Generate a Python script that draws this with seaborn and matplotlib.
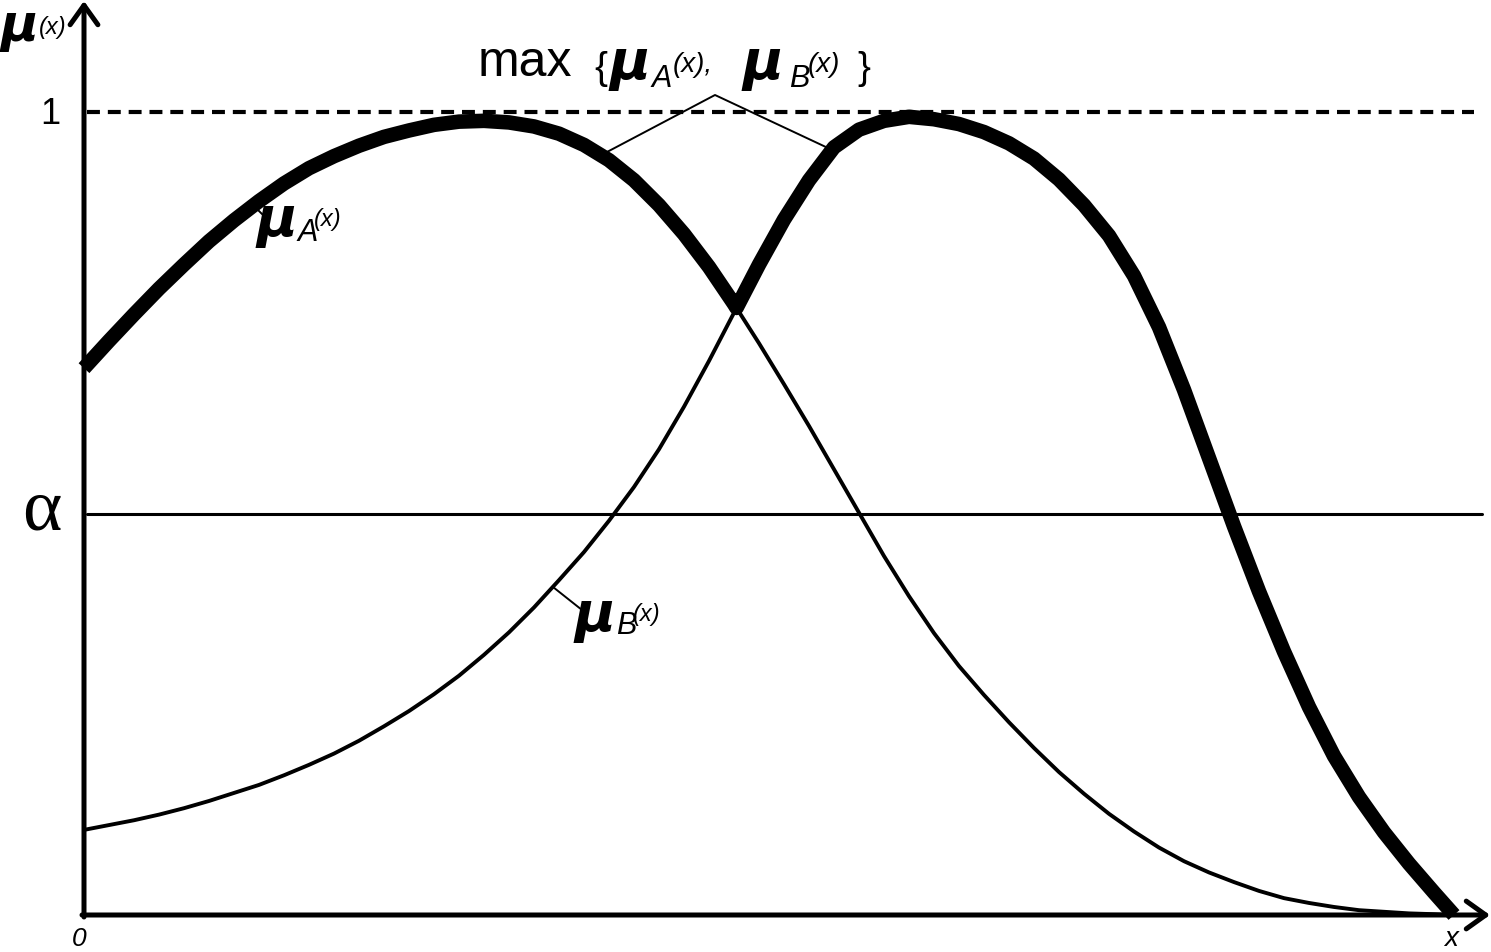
import numpy as np
import pandas as pd
import seaborn as sns
import matplotlib
matplotlib.use("Agg")
import matplotlib.pyplot as plt

# eixo x: grade comum para as duas funções (o ponto 6.525 é o cruzamento A x B)
x_vals = [0.00, 0.25, 0.50, 0.75, 1.00, 1.25, 1.50, 1.75, 2.00, 2.25, 2.50, 2.75,
          3.00, 3.25, 3.50, 3.75, 4.00, 4.25, 4.50, 4.75, 5.00, 5.25, 5.50, 5.75,
          6.00, 6.25, 6.50, 6.525, 6.75, 7.00, 7.25, 7.50, 7.75, 8.00, 8.25, 8.50,
          8.75, 9.00, 9.25, 9.50, 9.75, 10.00, 10.25, 10.50, 10.75, 11.00, 11.25,
          11.50, 11.75, 12.00, 12.25, 12.50, 12.75, 13.00, 13.25, 13.50, 13.70]

# mu_A(x)
mu_a = [0.681, 0.715, 0.748, 0.780, 0.810, 0.839, 0.865, 0.889, 0.911, 0.930, 0.945, 0.958,
        0.969, 0.977, 0.984, 0.988, 0.989, 0.987, 0.982, 0.973, 0.959, 0.940, 0.915, 0.884,
        0.848, 0.807, 0.761, 0.756, 0.712, 0.661, 0.609, 0.555, 0.501, 0.447, 0.397, 0.351,
        0.310, 0.274, 0.240, 0.208, 0.178, 0.151, 0.126, 0.104, 0.084, 0.067, 0.053,
        0.041, 0.030, 0.021, 0.015, 0.010, 0.006, 0.004, 0.002, 0.001, 0.0]

# mu_B(x)
mu_b = [0.106, 0.112, 0.118, 0.125, 0.133, 0.142, 0.152, 0.162, 0.174, 0.187, 0.201, 0.217,
        0.235, 0.254, 0.275, 0.298, 0.324, 0.352, 0.383, 0.417, 0.452, 0.491, 0.533, 0.580,
        0.633, 0.690, 0.750, 0.756, 0.810, 0.866, 0.915, 0.956, 0.978, 0.989, 0.994, 0.991,
        0.985, 0.975, 0.961, 0.942, 0.916, 0.884, 0.846, 0.796, 0.732, 0.654, 0.569,
        0.484, 0.403, 0.328, 0.259, 0.198, 0.147, 0.103, 0.064, 0.028, 0.0]

alpha_nivel = 0.5

df = pd.DataFrame({"x": x_vals, "mu_a": mu_a, "mu_b": mu_b})
df["mu_max"] = np.maximum(df["mu_a"], df["mu_b"])  # união = max

sns.set_theme(style="white")
plt.rcParams["font.family"] = ["Liberation Sans", "DejaVu Sans"]
plt.rcParams["text.color"] = "black"

fig = plt.figure(figsize=(14.91, 9.52), dpi=100)
ax = fig.add_axes([0, 0, 1, 1])
ax.set_xlim(-0.84, 14.07)
ax.set_ylim(-37 / 803, 915 / 803)
ax.axis("off")


def px(x, y):
    # converte posição em pixels da figura para coordenadas de dados
    return ((x - 84) / 100, (915 - y) / 803)


def mu(x, y, size=40):
    # letra mu em negrito/itálico
    ax.text(*px(x, y), "\u03bc", fontsize=size, fontweight="bold", style="oblique",
            family="DejaVu Sans", va="baseline", color="black")


# curvas finas
sns.lineplot(data=df, x="x", y="mu_a", ax=ax, color="black", linewidth=2.8, sort=False, zorder=2)
sns.lineplot(data=df, x="x", y="mu_b", ax=ax, color="black", linewidth=2.8, sort=False, zorder=2)
# curva grossa (max)
sns.lineplot(data=df, x="x", y="mu_max", ax=ax, color="black", linewidth=10.5, sort=False, zorder=3,
             solid_capstyle="butt", solid_joinstyle="round")

# linha do 1 (tracejada) e do alfa
ax.plot([0.03, 13.9], [1, 1], color="black", linewidth=3.0, dashes=(3.1, 1.9), zorder=1)
ax.plot([0.03, 13.98], [alpha_nivel, alpha_nivel], color="black", linewidth=2.2, zorder=1)

# eixos com setas
seta = dict(arrowstyle="->, head_length=0.7, head_width=0.5", color="black", linewidth=3.6,
            mutation_scale=20, shrinkA=0, shrinkB=0)
ax.annotate("", xy=px(84, 1), xytext=px(84, 917), arrowprops=seta, zorder=5)
ax.annotate("", xy=px(1490, 915), xytext=px(82, 915), arrowprops=seta, zorder=5)

# textos dos eixos
mu(0, 41, 37)
ax.text(*px(39, 34), "(x)", fontsize=17, style="italic", va="baseline")
ax.text(*px(50, 124), "1", fontsize=26, ha="center", va="baseline")
ax.text(*px(42, 529), "\u03b1", fontsize=54, ha="center", va="baseline", family="Liberation Serif")
ax.text(*px(79, 946), "0", fontsize=19, style="italic", ha="center", va="baseline")
ax.text(*px(1451, 946), "x", fontsize=20, style="italic", ha="center", va="baseline")

# rotulo mu_A
mu(256, 236)
ax.text(*px(297, 241), "A", fontsize=22, style="italic", va="baseline")
ax.text(*px(314, 226), "(x)", fontsize=17, style="italic", va="baseline")
ax.plot([px(255, 207)[0], px(264, 216)[0]], [px(255, 207)[1], px(264, 216)[1]], color="black", linewidth=1.4)

# rotulo mu_B
mu(574, 631)
ax.text(*px(616, 634), "B", fontsize=22, style="italic", va="baseline")
ax.text(*px(633, 621), "(x)", fontsize=17, style="italic", va="baseline")
ax.plot([px(553, 587)[0], px(582, 610)[0]], [px(553, 587)[1], px(582, 610)[1]], color="black", linewidth=1.4)

# rotulo max
ax.text(*px(478, 76), "max", fontsize=36, va="baseline")
ax.text(*px(594, 79), "{", fontsize=28, va="baseline")
mu(609, 79)
ax.text(*px(651, 87), "A", fontsize=22, style="italic", va="baseline")
ax.text(*px(673, 72), "(x),", fontsize=20, style="italic", va="baseline")
mu(742, 79)
ax.text(*px(789, 87), "B", fontsize=22, style="italic", va="baseline")
ax.text(*px(808, 72), "(x)", fontsize=20, style="italic", va="baseline")
ax.text(*px(857, 79), "}", fontsize=28, va="baseline")
lx = [px(607, 152)[0], px(715, 95)[0], px(828, 148)[0]]
ly = [px(607, 152)[1], px(715, 95)[1], px(828, 148)[1]]
ax.plot(lx, ly, color="black", linewidth=1.4)

fig.savefig("out.png", dpi=100)
